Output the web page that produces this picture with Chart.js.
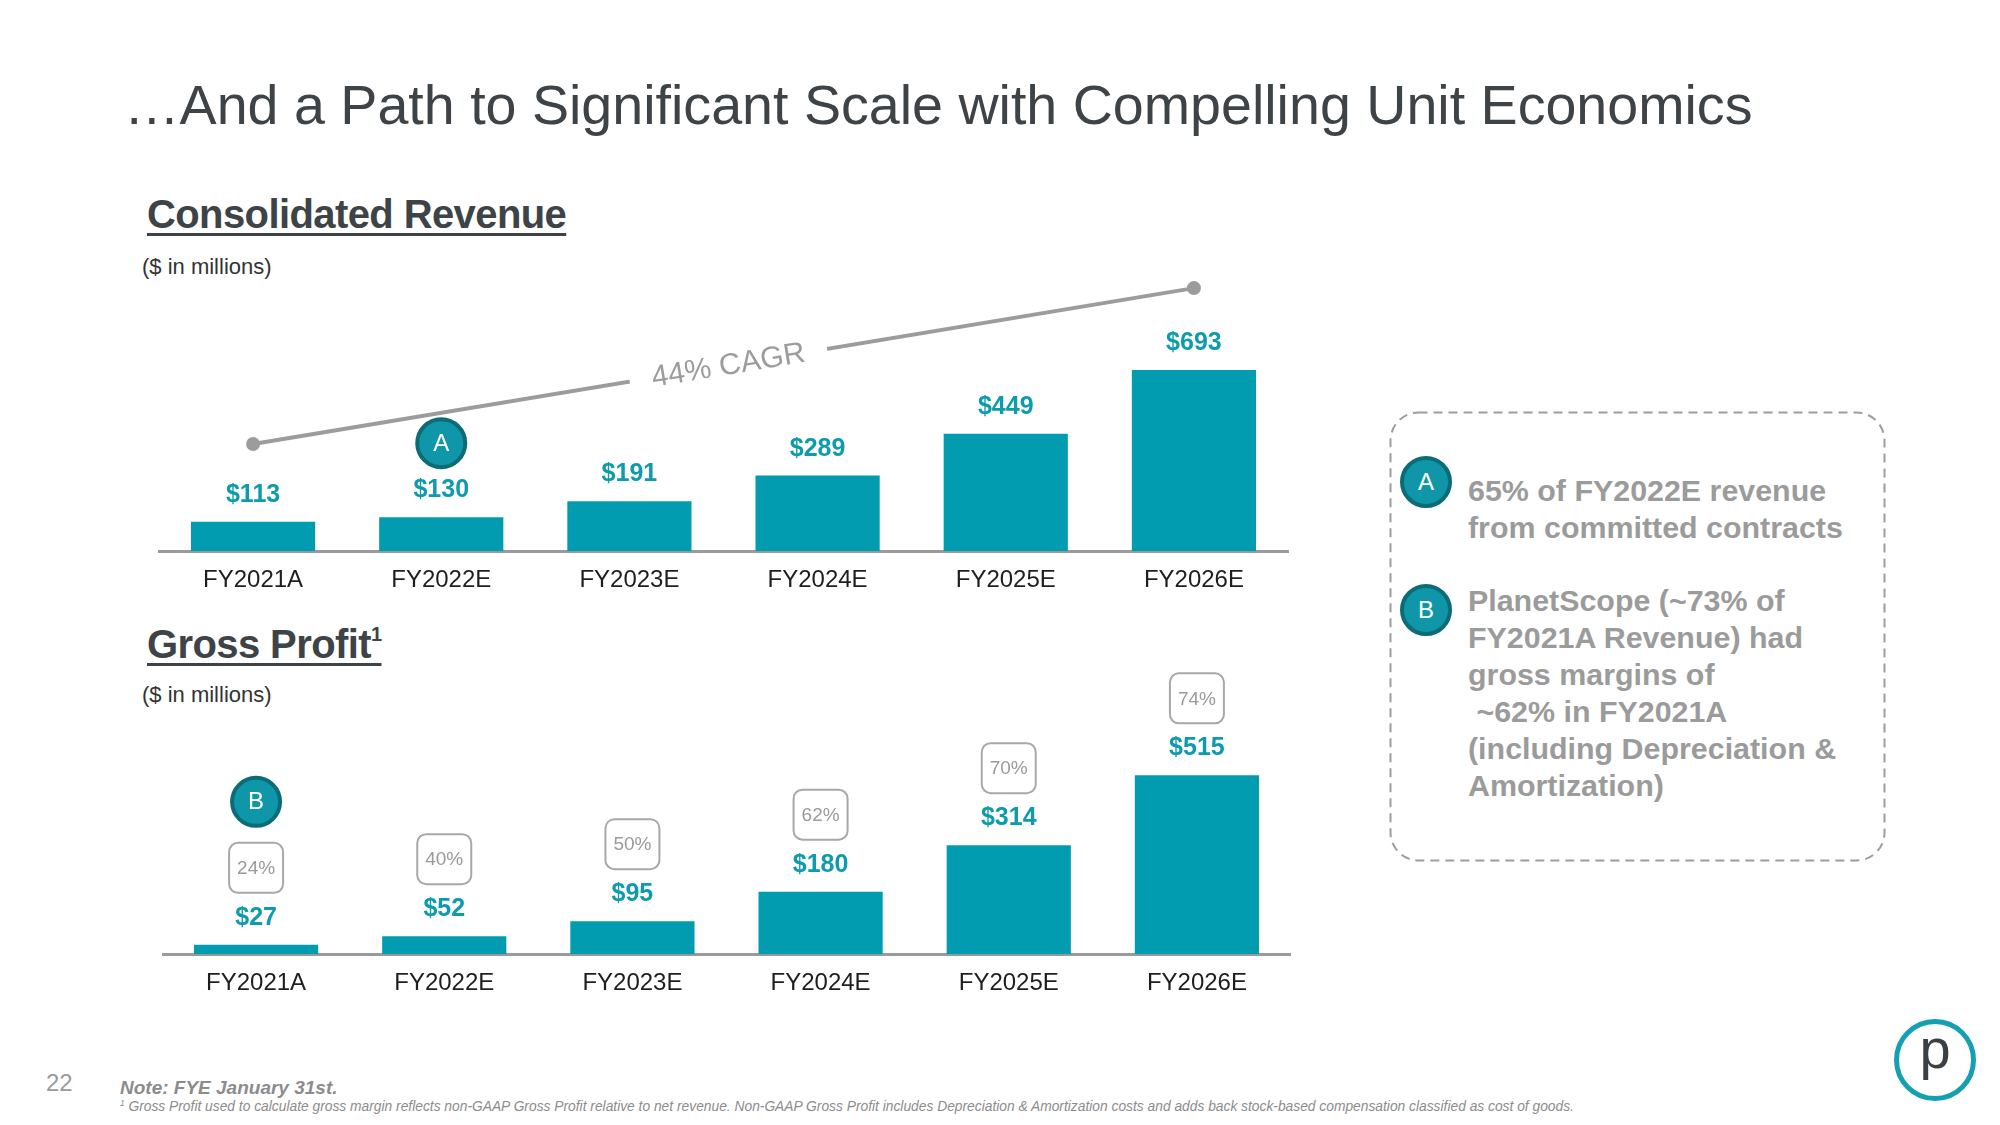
<!DOCTYPE html>
<html>
<head>
<meta charset="utf-8">
<script src="https://cdn.jsdelivr.net/npm/chart.js@4/dist/chart.umd.min.js"></script>
<style>
  body { margin: 0; width: 2000px; height: 1125px; background: #fff; position: relative; overflow: hidden;
         font-family: 'Liberation Sans', Arial, sans-serif; }
  .abs { position: absolute; white-space: nowrap; line-height: 1; }
  .title { left: 124px; top: 78px; font-size: 55.6px; color: #3d4347; }
  .sect { font-size: 40px; font-weight: bold; color: #3d4347; letter-spacing: -0.6px;
          text-decoration: underline; text-decoration-thickness: 3px; text-underline-offset: 5px; }
  .unit { font-size: 22px; color: #333; }
  .badge { position: absolute; width: 52px; height: 52px; box-sizing: border-box; border-radius: 50%;
           background: #0f97a9; border: 4px solid #0b6c78; color: #fff; font-size: 24px;
           display: flex; align-items: center; justify-content: center; }
  .note { font-size: 30.4px; line-height: 37px; font-weight: bold; color: #9b9b9b; white-space: nowrap; position: absolute; }
  canvas { position: absolute; }
</style>
</head>
<body>
<div class="abs title">…And a Path to Significant Scale with Compelling Unit Economics</div>

<div class="abs sect" style="left:147px; top:194px;">Consolidated Revenue</div>
<div class="abs unit" style="left:142px; top:256px;">($ in millions)</div>

<div class="abs sect" style="left:147px; top:624px;">Gross Profit<span style="font-size:0.5em; position:relative; top:-0.85em;">1</span></div>
<div class="abs unit" style="left:142px; top:684px;">($ in millions)</div>

<canvas id="revenueChart" width="1143" height="377" style="left:152px; top:233px; width:1143px; height:377px;"></canvas>
<canvas id="profitChart" width="1129" height="353" style="left:162px; top:660px; width:1129px; height:353px;"></canvas>

<svg style="position:absolute; left:1389px; top:411px;" width="497" height="451">
  <rect x="1.5" y="1.5" width="494" height="448" rx="28" ry="28" fill="none" stroke="#9d9d9d" stroke-width="2" stroke-dasharray="9 6"/>
</svg>
<div class="badge" style="left:1400px; top:456px;">A</div>
<div class="note" style="left:1468px; top:472px;">65% of FY2022E revenue<br>from committed contracts</div>
<div class="badge" style="left:1400px; top:584px;">B</div>
<div class="note" style="left:1468px; top:582px;">PlanetScope (~73% of<br>FY2021A Revenue) had<br>gross margins of<br>&nbsp;~62% in FY2021A<br>(including Depreciation &amp;<br>Amortization)</div>

<div class="abs" style="left:46px; top:1071px; font-size:24px; color:#9a9a9a;">22</div>
<div class="abs" style="left:120px; top:1078px; font-size:19px; font-weight:bold; font-style:italic; color:#8c8c8c;">Note: FYE January 31st.</div>
<div class="abs" style="left:120px; top:1100px; font-size:13.8px; font-style:italic; color:#8c8c8c;"><span style="font-size:0.6em; position:relative; top:-0.6em;">1</span> Gross Profit used to calculate gross margin reflects non-GAAP Gross Profit relative to net revenue. Non-GAAP Gross Profit includes Depreciation &amp; Amortization costs and adds back stock-based compensation classified as cost of goods.</div>

<div style="position:absolute; left:1894px; top:1019px; width:82px; height:82px; box-sizing:border-box; border:5px solid #14a0b2; border-radius:50%;"></div>
<div class="abs" style="left:1894px; width:82px; text-align:center; top:1021px; font-size:56px; color:#3b4046;">p</div>

<script>
const categories = ['FY2021A', 'FY2022E', 'FY2023E', 'FY2024E', 'FY2025E', 'FY2026E'];
const revenue = [113, 130, 191, 289, 449, 693];
const grossProfit = [27, 52, 95, 180, 314, 515];
const grossMargin = [24, 40, 50, 62, 70, 74];
const revenueBadges = [null, 'A', null, null, null, null];
const profitBadges = ['B', null, null, null, null, null];
// trend line drawn above the revenue bars (start / end only)
const cagrLine = [410, null, null, null, null, 1006];
const cagrLabel = '44% CAGR';

const TEAL = '#019cb0';
const LABEL_TEAL = '#0d9bad';
const GREY = '#9c9c9c';
const FONT = "'Liberation Sans', Arial, sans-serif";

function roundRect(ctx, x, y, w, h, r) {
    ctx.beginPath();
    ctx.moveTo(x + r, y);
    ctx.arcTo(x + w, y, x + w, y + h, r);
    ctx.arcTo(x + w, y + h, x, y + h, r);
    ctx.arcTo(x, y + h, x, y, r);
    ctx.arcTo(x, y, x + w, y, r);
    ctx.closePath();
}

function drawBadge(ctx, x, y, letter) {
    ctx.beginPath();
    ctx.arc(x, y, 24, 0, Math.PI * 2);
    ctx.fillStyle = '#0f97a9';
    ctx.fill();
    ctx.lineWidth = 4;
    ctx.strokeStyle = '#0b6c78';
    ctx.stroke();
    ctx.fillStyle = '#fff';
    ctx.font = `24px ${FONT}`;
    ctx.fillText(letter, x, y + 1);
}

const barLabels = {
    id: 'barLabels',
    afterDatasetsDraw(chart) {
        const opts = chart.options.plugins.barLabels;
        const ctx = chart.ctx;
        const values = chart.data.datasets[0].data;
        ctx.save();
        ctx.textAlign = 'center';
        ctx.textBaseline = 'middle';

        if (opts.cagr) {
            const lineData = chart.data.datasets[1].data;
            const pts = chart.getDatasetMeta(1).data.filter((p, i) => lineData[i] != null);
            const a = pts[0], b = pts[pts.length - 1];
            const ang = Math.atan2(b.y - a.y, b.x - a.x);
            ctx.save();
            ctx.translate((a.x + b.x) / 2 + 5, (a.y + b.y) / 2);
            ctx.rotate(ang);
            ctx.fillStyle = '#fff';
            ctx.fillRect(-100, -12, 200, 24);
            ctx.fillStyle = GREY;
            ctx.font = `30px ${FONT}`;
            ctx.fillText(opts.cagr, 0, 0);
            ctx.restore();
        }

        chart.getDatasetMeta(0).data.forEach((bar, i) => {
            const labelY = bar.y - 27;
            ctx.fillStyle = LABEL_TEAL;
            ctx.font = `bold 25px ${FONT}`;
            ctx.fillText('$' + values[i], bar.x, labelY);
            let badgeY = labelY - 47;
            if (opts.margins) {
                const my = labelY - 50;
                roundRect(ctx, bar.x - 27, my - 25, 54, 50, 9);
                ctx.fillStyle = '#fff';
                ctx.fill();
                ctx.lineWidth = 2;
                ctx.strokeStyle = '#a8a8a8';
                ctx.stroke();
                ctx.fillStyle = '#9a9a9a';
                ctx.font = `19px ${FONT}`;
                ctx.fillText(opts.margins[i] + '%', bar.x, my + 1);
                badgeY = my - 66;
            }
            if (opts.badges[i]) drawBadge(ctx, bar.x, badgeY, opts.badges[i]);
        });
        ctx.restore();
    }
};

function renderChart(canvasId, datasets, yMax, labelOpts) {
    const ctx = document.getElementById(canvasId).getContext('2d');
    return new Chart(ctx, {
        type: 'bar',
        data: { labels: categories, datasets },
        options: {
            responsive: false,
            animation: false,
            events: [],
            layout: { padding: 0 },
            plugins: {
                legend: { display: false },
                tooltip: { enabled: false },
                barLabels: labelOpts
            },
            scales: {
                x: {
                    grid: { display: false, drawTicks: false },
                    border: { display: true, color: '#9a9a9a', width: 3 },
                    ticks: { color: '#1e1e1e', font: { family: FONT, size: 24 }, padding: 15 }
                },
                y: { display: false, min: 0, max: yMax }
            }
        },
        plugins: [barLabels]
    });
}

renderChart('revenueChart', [
    {
        label: 'Consolidated Revenue',
        data: revenue,
        backgroundColor: TEAL,
        barPercentage: 0.66,
        categoryPercentage: 1
    },
    {
        type: 'line',
        label: 'CAGR',
        data: cagrLine,
        spanGaps: true,
        borderColor: GREY,
        borderWidth: 4,
        pointRadius: 7,
        pointBackgroundColor: GREY,
        pointBorderWidth: 0
    }
], 1190, { badges: revenueBadges, cagr: cagrLabel });

renderChart('profitChart', [
    {
        label: 'Gross Profit',
        data: grossProfit,
        backgroundColor: TEAL,
        barPercentage: 0.66,
        categoryPercentage: 1
    }
], 847, { badges: profitBadges, margins: grossMargin });
</script>
</body>
</html>
